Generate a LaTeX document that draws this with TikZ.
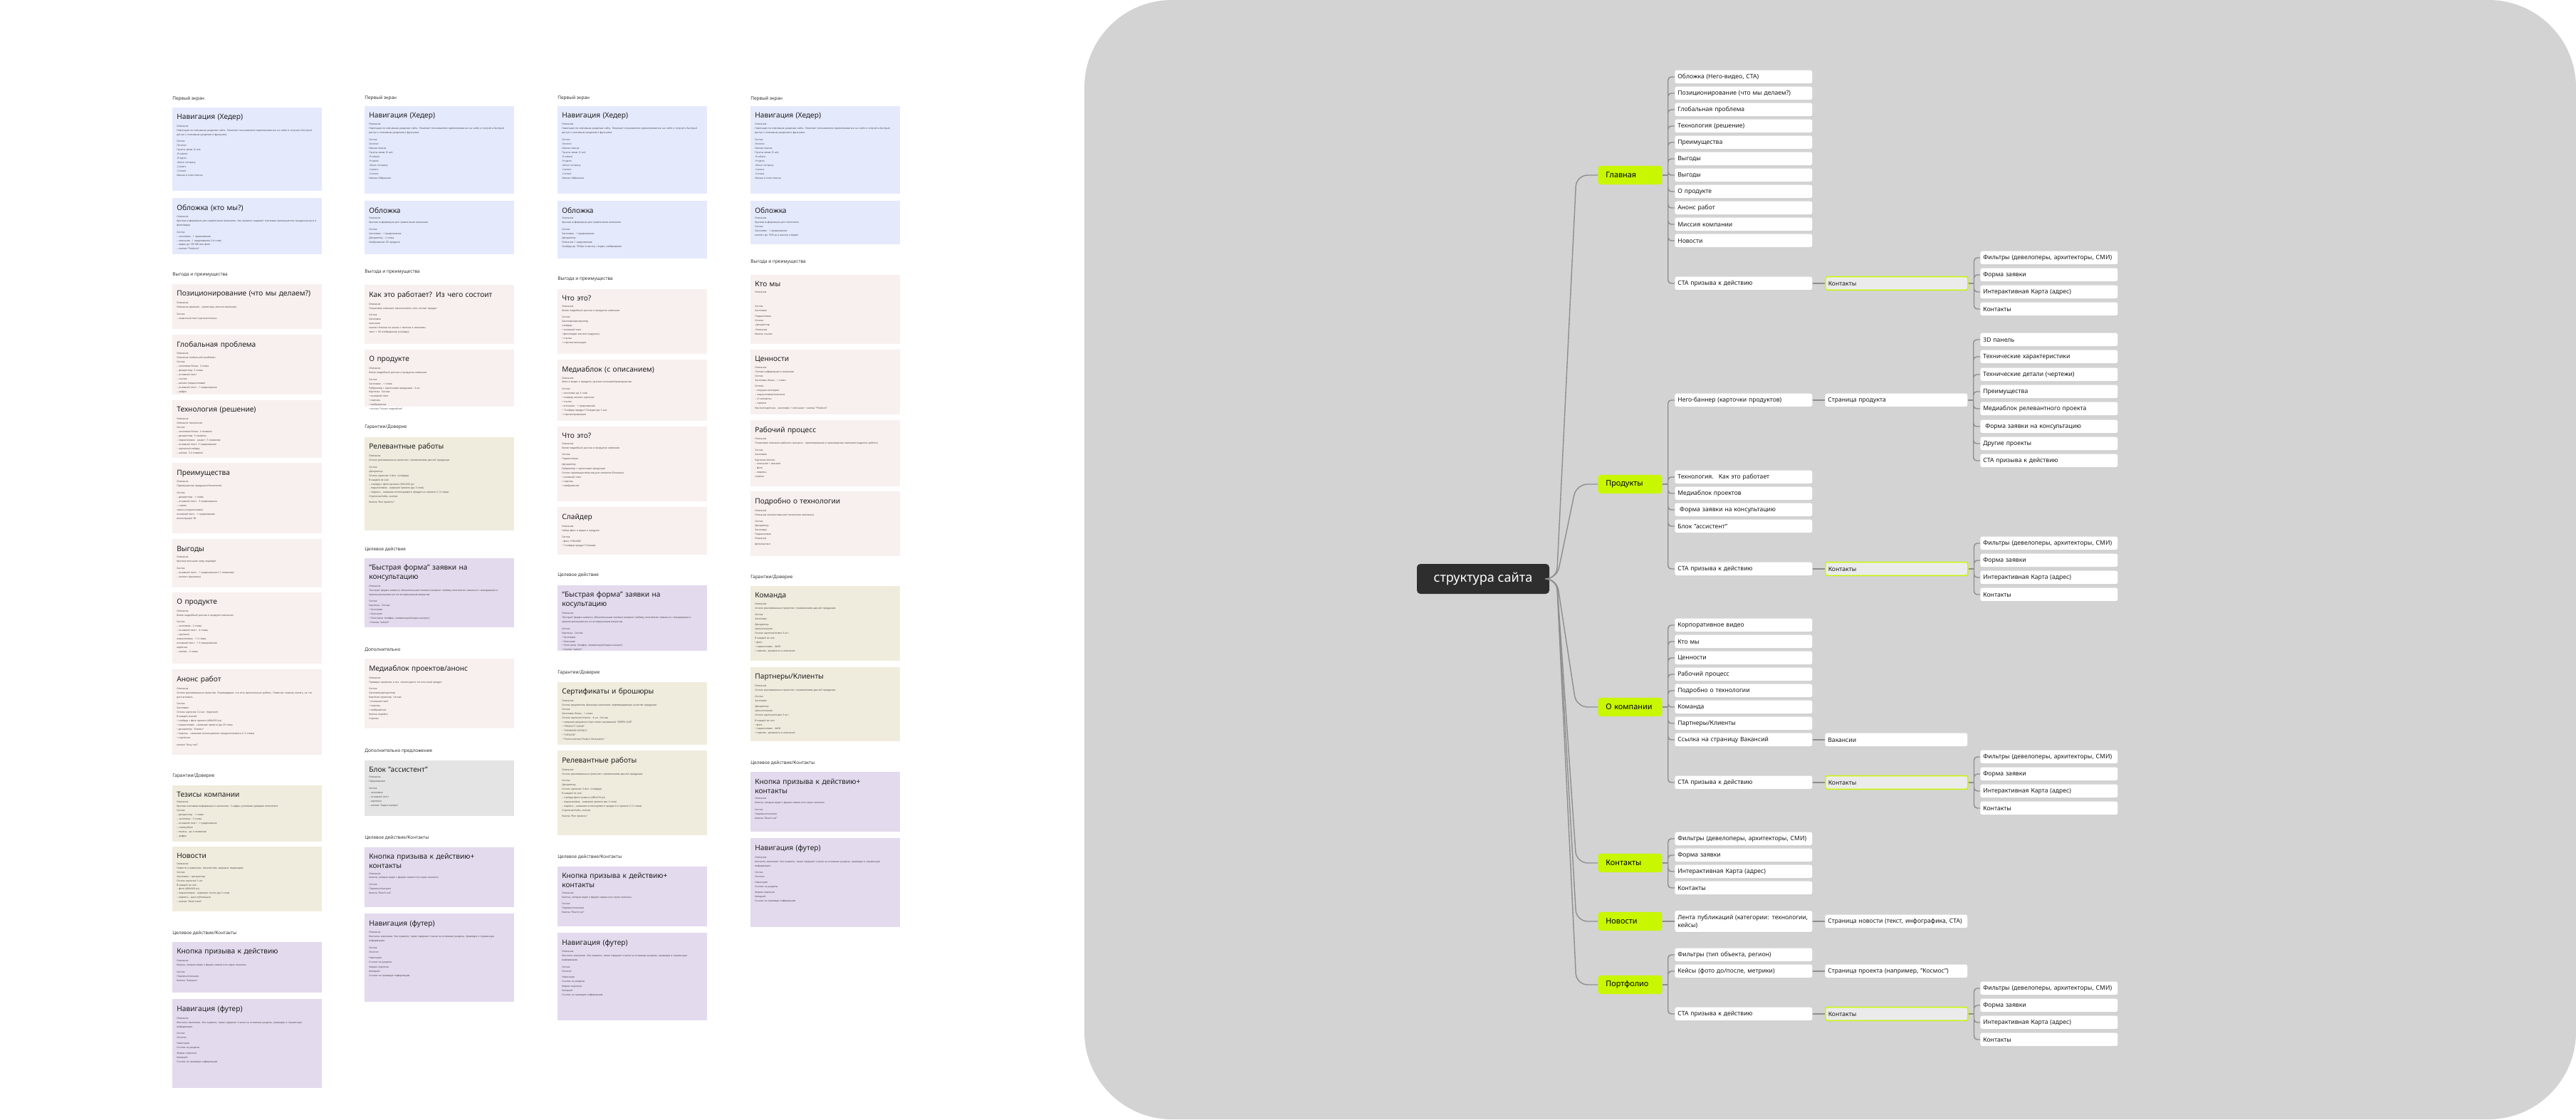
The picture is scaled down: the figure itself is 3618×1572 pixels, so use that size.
\documentclass[tikz,border=0pt]{standalone}
\usepackage{fontspec}
\setmainfont{Noto Sans}
\usetikzlibrary{calc,shadows}

\definecolor{mapgray}{HTML}{D3D3D3}
\definecolor{lime}{HTML}{C8F700}
\definecolor{linkgray}{HTML}{8E8E8E}
\definecolor{rootgray}{HTML}{2E2E2E}
\definecolor{hlgray}{HTML}{EBEBEB}
\definecolor{navblue}{HTML}{E5E9FC}
\definecolor{benpink}{HTML}{F7F0EE}
\definecolor{trustbeige}{HTML}{F0ECDD}
\definecolor{actlilac}{HTML}{E3DAEE}
\definecolor{extragray}{HTML}{E4E4E4}

\tikzset{
  cardtitle/.style={anchor=north west, inner sep=0pt, text width=39mm, align=left,
    font=\fontsize{5.8}{7.4}\selectfont, text=black!88},
  cardbody/.style={anchor=north west, inner sep=0pt, text width=39.6mm, align=left,
    font=\fontsize{1.9}{3.4}\selectfont, text=black!72},
  grouplabel/.style={anchor=west, inner sep=0pt, font=\fontsize{3.7}{4.4}\selectfont, text=black!80},
  mapitem/.style={anchor=west, fill=white, rounded corners=1.6pt, text width=37mm,
    inner xsep=0.8mm, inner ysep=0pt, minimum height=3.74mm, align=left,
    font=\fontsize{4.9}{6.3}\selectfont, text=black!90,
    drop shadow={shadow xshift=0pt, shadow yshift=-0.45pt, opacity=0.18}},
  subpage/.style={mapitem, text width=38.4mm},
  hlbox/.style={subpage, fill=hlgray, draw=lime, line width=0.85pt},
  toplevel/.style={anchor=west, fill=lime, rounded corners=2.2pt, text width=13.6mm,
    inner xsep=2.2mm, inner ysep=0pt, minimum height=5.26mm, align=left,
    font=\fontsize{6.2}{7}\selectfont\bfseries},
  rootbox/.style={fill=rootgray, rounded corners=2.8pt, text=white,
    minimum width=37.2mm, minimum height=8.4mm, inner sep=0pt,
    font=\fontsize{10.3}{12}\selectfont},
  rootlink/.style={draw=linkgray, line width=0.8pt, rounded corners=9pt},
  link/.style={draw=linkgray, line width=0.8pt, rounded corners=2.6pt},
}

\newcommand{\hd}[1]{{\bfseries #1}}
% карточка: имя, цвет, x, верх, низ, заголовок, текст
\newcommand{\card}[7]{%
  \fill[#2] (#3,#4) rectangle (#3+210,#5);
  \node[cardtitle] (#1) at (#3+6,#4+9) {#6};
  \node[cardbody] (#1b) at ([yshift=-3pt]#1.south west) {#7};
}
\newcommand{\footerbody}{\hd{Описание}\\Контакты компании. Как правило, также содержит ссылки на основные разделы, правовую и справочную информацию.\\[2pt]\hd{Состав}\\Логотип\\[1pt]Навигация\\Ссылки на разделы\\[1pt]Форма подписки\\Копирайт\\Ссылки на правовую информацию}
\newcommand{\formbody}{\hd{Описание}\\“Быстрая” форма заявки (с обязательными полями) позволит любому посетителю связаться с менеджером и проконсультироваться по интересующим вопросам\\[2pt]\hd{Состав}\\Карточка. Состав:\\• Заголовок\\• Описание\\• Поля (имя, телефон, комментарий/задать вопрос)\\• Кнопка "submit"}
\newcommand{\ctabody}{\hd{Описание}\\Кнопка, которая ведет к форме заявки или через контакты\\[2pt]\hd{Состав}\\Подпись/описание\\Кнопка "Reach out"}
\newcommand{\navbody}[1]{\hd{Описание}\\Навигация по ключевым разделам сайта. Помогает пользователю ориентироваться на сайте и получить быстрый доступ к ключевым разделам и функциям.\\[2pt]\hd{Состав}\\Логотип\\Иконка поиска\\Пункты меню (5 шт):\\-Products\\-Projects\\-About company\\-Careers\\-Contact\\#1}

\begin{document}
\begin{tikzpicture}[x=0.2mm,y=-0.2mm]
\useasboundingbox (0,0) rectangle (3618,1572);
\fill[white] (0,0) rectangle (3618,1572);

%колонка 1
\node[grouplabel] (l1a) at (242,139) {Первый экран};
\card{navA}{navblue}{242}{150.8}{267.9}{Навигация (Хедер)}{\hd{Описание}\\Навигация по ключевым разделам сайта. Помогает пользователю ориентироваться на сайте и получить быстрый доступ к ключевым разделам и функциям.\\[2pt]\hd{Состав}\\Логотип\\Пункты меню (5 шт):\\-Products\\-Projects\\-About company\\-Careers\\-Contact\\Иконка и поле поиска}
\card{oblA}{navblue}{242}{278.4}{356.5}{Обложка (кто мы?)}{\hd{Описание}\\Краткая информация для привлечения внимания. Как правило содержит ключевые преимущества продукта/услуги и фото/видео\\[2pt]\hd{Состав}\\– заголовок - 1 предложение\\– описание - 1 предложение (14 слов)\\– видео до 100 Мб или фото\\– кнопка "Products"}
\node[grouplabel] (l1b) at (242,386) {Выгода и преимущества};
\card{posA}{benpink}{242}{399.2}{462.1}{Позиционирование (что мы делаем?)}{\hd{Описание}\\Описание решения - проектора, миссия компании\\[2pt]\hd{Состав}\\– акцентный текст (цитата/слоган)}
\card{globA}{benpink}{242}{469.9}{553.9}{Глобальная проблема}{\hd{Описание}\\Описание глобальной проблемы\\\hd{Состав}\\– заголовок блока: 3 слова\\– дескриптор: 2 слова\\– основной текст\\– ссылка\\– иконки (подзаголовки)\\– основной текст - 1 предложение\\– цифры}
\card{techA}{benpink}{242}{562.2}{642.6}{Технология (решение)}{\hd{Описание}\\Описание технологии\\\hd{Состав}\\– заголовок блока: 4 символа\\– дескриптор: 3 символа\\– подзаголовок - акцент: 5 символов\\– основной текст: 3 предложения\\– картинка/слайдер\\– кнопка: 3-4 символа}
\card{preA}{benpink}{242}{650.4}{749.1}{Преимущества}{\hd{Описание}\\Преимущества продукции/технологии\\[2pt]\hd{Состав}\\– дескриптор - 1 слово\\– основной текст - 3 предложения\\– список\\тезисы (подзаголовок)\\основной текст - 1 предложение\\иллюстрация 3D}
\card{vygA}{benpink}{242}{757.4}{824.9}{Выгоды}{\hd{Описание}\\Краткое описание кому подойдет\\[2pt]\hd{Состав}\\– основной текст - 1 предложение (11 символов)\\– контент (картинка)}
\card{oprA}{benpink}{242}{831.8}{931.5}{О продукте}{\hd{Описание}\\Более подробный рассказ о продукте компании\\[2pt]\hd{Состав}\\– заголовок - 2 слова\\– основной текст - 4 слова\\– картинка\\подзаголовок - 1-3 слова\\основной текст - 1-3 предложения\\картинка\\– кнопка - 2 слова}
\card{anonsA}{benpink}{242}{940.4}{1059.6}{Анонс работ}{\hd{Описание}\\Список реализованных проектов. Подтверждает, что есть выполненные работы. Помогает клиенту понять, на что рассчитывать.\\[2pt]\hd{Состав}\\Заголовок\\Список карточек 3-4 шт. (горизонт)\\В каждой кнопке:\\• слайдер с фото проекта (480x320 px)\\• подзаголовок - название проекта (до 20 слов)\\• дескриптор: "Клиент"\\• подпись - название используемого продукта/проекта (1-3 слова)\\• стрелочки\\[2pt]кнопка "Хочу так!"}
\node[grouplabel] (l1c) at (242,1090) {Гарантии/Доверие};
\card{tezA}{trustbeige}{242}{1102.5}{1181.5}{Тезисы компании}{\hd{Описание}\\Краткая ключевая информация о компании. 3 цифры усиливают доверие посетителя\\\hd{Состав}\\– дескриптор - 1 слово\\– заголовок - 3 слова\\– основной текст - 1 предложение\\– список/блок\\– тезисы - до 4 символов\\– цифры}
\card{newsA}{trustbeige}{242}{1189}{1279.7}{Новости}{\hd{Описание}\\Новости о компании, технологиях, мировых тенденциях\\\hd{Состав}\\\hd{Заголовок + дескриптор}\\Список карточек 3 шт.\\В каждой из них:\\– фото (480x300 px)\\– подзаголовок - название статьи (до 3 слов)\\– подпись - дата публикации\\– кнопка "Read more"}
\node[grouplabel] (l1d) at (242,1311) {Целевое действие/Контакты};
\card{btnA}{actlilac}{242}{1323}{1394.4}{Кнопка призыва к действию}{\hd{Описание}\\Кнопка, которая ведет к форме заявки или через контакты\\[2pt]\hd{Состав}\\Подпись/описание\\Кнопка "Заказать"}
\card{footA}{actlilac}{242}{1403.4}{1527.5}{Навигация (футер)}{\footerbody}

%колонка 2
\node[grouplabel] (l2a) at (512,137.5) {Первый экран};
\card{navB}{navblue}{512}{148.5}{271.5}{Навигация (Хедер)}{\navbody{Иконка Избранное}}
\card{oblB}{navblue}{512}{282}{356.5}{Обложка}{\hd{Описание}\\Краткая информация для привлечения внимания.\\[2pt]\hd{Состав}\\Заголовок - 1 предложение\\Дескриптор - 2 слова\\Изображение 3D продукта}
\node[grouplabel] (l2b) at (512,382) {Выгода и преимущества};
\card{kakB}{benpink}{512}{400}{482.8}{Как это работает? Из чего состоит}{\hd{Описание}\\Пошаговое описание технологии/из чего состоит продукт\\[2pt]\hd{Состав}\\Заголовок\\описание\\контент блоков по шагам с текстом и иконками\\текст + 3D изображение (слайдер)}
\card{oprB}{benpink}{512}{491}{571}{О продукте}{\hd{Описание}\\Более подробный рассказ о продуктах компании\\[2pt]\hd{Состав}\\Заголовок - 1 слово\\Рубрикатор с карточками продукции - 4 шт\\Карточка. Состав:\\• основной текст\\• подпись\\• изображение\\• кнопка "Узнать подробнее"}
\node[grouplabel] (l2c) at (512,600) {Гарантии/Доверие};
\card{relB}{trustbeige}{512}{613.6}{745.4}{Релевантные работы}{\hd{Описание}\\Список реализованных проектов с применением данной продукции.\\[2pt]\hd{Состав}\\Дескриптор\\Список карточек 3-4шт. (слайдер)\\В каждой из них:\\– слайдер с фото проекта (300x200 px)\\– подзаголовок - название проекта (до 3 слов)\\– подпись - название используемого продукта в проекте (1-3 слова)\\Стрелочки/табы, кнопки\\[1pt]Кнопка "Все проекты"}
\node[grouplabel] (l2d) at (512,772) {Целевое действие};
\card{formB}{actlilac}{512}{783.5}{881.4}{“Быстрая форма” заявки на консультацию}{\formbody}
\node[grouplabel] (l2e) at (512,913) {Дополнительно};
\card{mediaB}{benpink}{512}{925}{1023}{Медиаблок проектов/анонс}{\hd{Описание}\\Примеры проектов, в кот. используется тот или иной продукт\\[2pt]\hd{Состав}\\Заголовок/дескриптор\\Карточки проектов. Состав:\\• основной текст\\• подпись\\• изображение\\Кнопка перейти\\Стрелки}
\node[grouplabel] (l2f) at (512,1055) {Дополнительно предложение};
\card{asstB}{extragray}{512}{1067.5}{1146.3}{Блок "ассистент"}{\hd{Описание}\\Предложение\\[2pt]\hd{Состав}\\– заголовок\\– основной текст\\– картинка\\– кнопка "Задать вопрос"}
\node[grouplabel] (l2g) at (512,1177) {Целевое действие/Контакты};
\card{btnB}{actlilac}{512}{1189.6}{1273.5}{Кнопка призыва к действию+ контакты}{\ctabody}
\card{footB}{actlilac}{512}{1283}{1407}{Навигация (футер)}{\footerbody}

%колонка 3
\node[grouplabel] (l3a) at (783,137.5) {Первый экран};
\card{navC}{navblue}{783}{148.5}{271.5}{Навигация (Хедер)}{\navbody{Иконка Избранное}}
\card{oblC}{navblue}{783}{282}{362.5}{Обложка}{\hd{Описание}\\Краткая информация для привлечения внимания.\\[2pt]\hd{Состав}\\Заголовок - 1 предложение\\Дескриптор\\Описание 1 предложение\\Слайдер до 1920px в высоту / видео, изображение}
\node[grouplabel] (l3b) at (783,392) {Выгода и преимущества};
\card{chtoC}{benpink}{783}{406}{496.5}{Что это?}{\hd{Описание}\\Более подробный рассказ о продуктах компании\\[2pt]\hd{Состав}\\Заголовок/дескриптор\\слайдер:\\• основной текст\\• фото/видео контент (карусель)\\• ссылка\\• стрелки/пагинация}
\card{mediaC}{benpink}{783}{504.8}{590.7}{Медиаблок (с описанием)}{\hd{Описание}\\Фото и видео о продукте, краткое описание/преимущества\\[2pt]\hd{Состав}\\• заголовок до 3 слов\\• слайдер контент карточек\\• ссылка\\• описание - 1 предложение\\• "Слайдер продукт"/Галерея (до 5 шт)\\• стрелки/сравнение}
\card{chtoCC}{benpink}{783}{599}{704}{Что это?}{\hd{Описание}\\Более подробный рассказ о продуктах компании\\[2pt]\hd{Состав}\\Подзаголовок\\[1pt]Дескриптор\\Рубрикатор с карточками продукции\\Список преимуществ/выгод для клиентов (блоками)\\• основной текст\\• подпись\\• изображение}
\card{sliderC}{benpink}{783}{712.4}{779}{Слайдер}{\hd{Описание}\\Набор фото и видео о продукте\\[2pt]\hd{Состав}\\• фото 1920x800\\• "Слайдер продукт"/Галерея}
\node[grouplabel] (l3c) at (783,808) {Целевое действие};
\card{formC}{actlilac}{783}{821.7}{913.5}{“Быстрая форма” заявки на косультацию}{\formbody}
\node[grouplabel] (l3d) at (783,944.5) {Гарантии/Доверие};
\card{certC}{trustbeige}{783}{957.5}{1046}{Сертификаты и брошюры}{\hd{Описание}\\Список документов, брошюры компании, подтверждающих качество продукции\\\hd{Состав}\\Заголовок блока - 1 слово\\Список карточек/плиток - 4 шт. Состав:\\• название документа (при клике скачивание) "GREEN LINE"\\• "PRODUCT GUIDE"\\• "STANDARD DETAILS"\\• "CATALOG"\\• "Environmental Product Declaration"}
\card{relC}{trustbeige}{783}{1054.3}{1173}{Релевантные работы}{\hd{Описание}\\Список реализованных проектов с применением данной продукции.\\[2pt]\hd{Состав}\\Дескриптор\\Список карточек 3-4шт. (слайдер)\\В каждой из них:\\– слайдер фото проекта (480x270 px)\\– подзаголовок - название проекта (до 3 слов)\\– подпись - название используемого продукта в проекте (1-3 слова)\\Стрелочки/табы, кнопки\\[1pt]Кнопка "Все проекты"}
\node[grouplabel] (l3e) at (783,1204) {Целевое действие/Контакты};
\card{btnC}{actlilac}{783}{1217}{1301}{Кнопка призыва к действию+ контакты}{\ctabody}
\card{footC}{actlilac}{783}{1310}{1433}{Навигация (футер)}{\footerbody}

%колонка 4
\node[grouplabel] (l4a) at (1054,139) {Первый экран};
\card{navD}{navblue}{1054}{148.5}{271.5}{Навигация (Хедер)}{\navbody{Иконка и поле поиска}}
\card{oblD}{navblue}{1054}{282}{342.7}{Обложка}{\hd{Описание}\\Краткая информация для посетителя\\\hd{Состав}\\Заголовок - 1 предложение\\контент до 1920 px в высоту и видео}
\node[grouplabel] (l4b) at (1054,368) {Выгода и преимущества};
\card{ktoD}{benpink}{1054}{386.3}{482.8}{Кто мы}{\hd{Описание}\\[8pt]\hd{Состав}\\Заголовок\\[1pt]Подзаголовок\\Список:\\-Дескриптор\\[1pt]-Описание\\Кнопка ссылки}
\card{cenD}{benpink}{1054}{491}{581.5}{Ценности}{\hd{Описание}\\Полная информация о компании\\\hd{Состав}\\Заголовок блока - 1 слово\\[1pt]Список:\\– текущая категория\\– подзаголовок/описание\\– UI элементы\\– стрелки\\[1pt]Контент/карточки - заголовок + описание + кнопка "Products"}
\card{rabD}{benpink}{1054}{589.8}{682.5}{Рабочий процесс}{\hd{Описание}\\Пошаговое описание рабочего процесса - проектирования и производства компании (карусель работы)\\[2pt]\hd{Состав}\\Заголовок\\[1pt]Карточки/список:\\– описание + иконкой\\– фото\\– подпись\\стрелки}
\card{podrD}{benpink}{1054}{690.3}{781.2}{Подробно о технологии}{\hd{Описание}\\Описание запатентованной технологии компании\\[2pt]\hd{Состав}\\\hd{Дескриптор}\\Заголовок\\Подзаголовок\\Описание\\[1pt]фото/контент}
\node[grouplabel] (l4c) at (1054,811) {Гарантии/Доверие};
\card{komD}{trustbeige}{1054}{822.6}{928.3}{Команда}{\hd{Описание}\\Список реализованных проектов с применением данной продукции.\\[2pt]\hd{Состав}\\\hd{Заголовок}\\[1pt]Дескриптор\\Цель/описание\\Список карточек/ячеек 3 шт.:\\[1pt]В каждой из них:\\• фото\\• подзаголовок - ФИО\\• подпись: должность в компании}
\card{partD}{trustbeige}{1054}{936.7}{1040.7}{Партнеры/Клиенты}{\hd{Описание}\\Список реализованных проектов с применением данной продукции.\\[2pt]\hd{Состав}\\\hd{Заголовок}\\[1pt]Дескриптор\\Цель/описание\\Список карточек/ячеек 3 шт.:\\[1pt]В каждой из них:\\• фото\\• подзаголовок - ФИО\\• подпись: должность в компании}
\node[grouplabel] (l4d) at (1054,1072) {Целевое действие/Контакты};
\card{btnD}{actlilac}{1054}{1084.3}{1168.3}{Кнопка призыва к действию+ контакты}{\ctabody}
\card{footD}{actlilac}{1054}{1177.3}{1301.7}{Навигация (футер)}{\footerbody}

%поле карты
\fill[mapgray, rounded corners=70pt] (1523,0) rectangle (3618,1572);

%корень
\node[rootbox] (root) at (2083,813) {структура сайта};

%главная
\node[toplevel] (glav) at (2244,246) {Главная};
\node[mapitem] (g1) at (2352,108) {Обложка (Него-видео, CTA)};
\node[mapitem] (g2) at (2352,131) {Позиционирование (что мы делаем?)};
\node[mapitem] (g3) at (2352,154) {Глобальная проблема};
\node[mapitem] (g4) at (2352,177) {Технология (решение)};
\node[mapitem] (g5) at (2352,200) {Преимущества};
\node[mapitem] (g6) at (2352,223) {Выгоды};
\node[mapitem] (g7) at (2352,246) {Выгоды};
\node[mapitem] (g8) at (2352,269) {О продукте};
\node[mapitem] (g9) at (2352,292) {Анонс работ};
\node[mapitem] (g10) at (2352,315) {Миссия компании};
\node[mapitem] (g11) at (2352,338) {Новости};
\node[mapitem] (g12) at (2352,398) {CTA призыва к действию};
\node[hlbox] (gk) at (2563,398) {Контакты};
\node[mapitem] (gk1) at (2781,362) {Фильтры (девелоперы, архитекторы, СМИ)};
\node[mapitem] (gk2) at (2781,386) {Форма заявки};
\node[mapitem] (gk3) at (2781,410) {Интерактивная Карта (адрес)};
\node[mapitem] (gk4) at (2781,434) {Контакты};

%продукты
\node[toplevel] (prod) at (2244,680) {Продукты};
\node[mapitem] (p1) at (2352,562) {Него-баннер (карточки продуктов)};
\node[subpage] (ps) at (2563,562) {Страница продукта};
\node[mapitem] (ps1) at (2781,477) {3D панель};
\node[mapitem] (ps2) at (2781,501) {Технические характеристики};
\node[mapitem] (ps3) at (2781,526) {Технические детали (чертежи)};
\node[mapitem] (ps4) at (2781,550) {Преимущества};
\node[mapitem] (ps5) at (2781,574) {Медиаблок релевантного проекта};
\node[mapitem] (ps6) at (2781,599) {~Форма заявки на консультацию};
\node[mapitem] (ps7) at (2781,623) {Другие проекты};
\node[mapitem] (ps8) at (2781,647) {CTA призыва к действию};
\node[mapitem] (p2) at (2352,670) {Технология.~ Как это работает};
\node[mapitem] (p3) at (2352,693) {Медиаблок проектов};
\node[mapitem] (p4) at (2352,716) {~Форма заявки на консультацию};
\node[mapitem] (p5) at (2352,739) {Блок "ассистент"};
\node[mapitem] (p6) at (2352,799) {CTA призыва к действию};
\node[hlbox] (pk) at (2563,799) {Контакты};
\node[mapitem] (pk1) at (2781,763) {Фильтры (девелоперы, архитекторы, СМИ)};
\node[mapitem] (pk2) at (2781,787) {Форма заявки};
\node[mapitem] (pk3) at (2781,811) {Интерактивная Карта (адрес)};
\node[mapitem] (pk4) at (2781,835) {Контакты};

%о компании
\node[toplevel] (comp) at (2244,993) {О~компании};
\node[mapitem] (c1) at (2352,878) {Корпоративное видео};
\node[mapitem] (c2) at (2352,901) {Кто мы};
\node[mapitem] (c3) at (2352,924) {Ценности};
\node[mapitem] (c4) at (2352,947) {Рабочий процесс};
\node[mapitem] (c5) at (2352,970) {Подробно о технологии};
\node[mapitem] (c6) at (2352,993) {Команда};
\node[mapitem] (c7) at (2352,1016) {Партнеры/Клиенты};
\node[mapitem] (c8) at (2352,1039) {Ссылка на страницу Вакансий};
\node[subpage] (cv) at (2563,1039) {Вакансии};
\node[mapitem] (c9) at (2352,1099) {CTA призыва к действию};
\node[hlbox] (ck) at (2563,1099) {Контакты};
\node[mapitem] (ck1) at (2781,1063) {Фильтры (девелоперы, архитекторы, СМИ)};
\node[mapitem] (ck2) at (2781,1087) {Форма заявки};
\node[mapitem] (ck3) at (2781,1111) {Интерактивная Карта (адрес)};
\node[mapitem] (ck4) at (2781,1135) {Контакты};

%контакты
\node[toplevel] (cont) at (2244,1212) {Контакты};
\node[mapitem] (t1) at (2352,1178) {Фильтры (девелоперы, архитекторы, СМИ)};
\node[mapitem] (t2) at (2352,1201) {Форма заявки};
\node[mapitem] (t3) at (2352,1224) {Интерактивная Карта (адрес)};
\node[mapitem] (t4) at (2352,1247) {Контакты};

%новости
\node[toplevel] (nws) at (2244,1294) {Новости};
\node[mapitem, minimum height=6mm] (n1) at (2352,1294) {Лента публикаций (категории: технологии,\\кейсы)};
\node[subpage] (ns) at (2563,1294) {Страница новости (текст, инфографика, CTA)};

%портфолио
\node[toplevel] (port) at (2244,1383) {Портфолио};
\node[mapitem] (f1) at (2352,1341) {Фильтры (тип объекта, регион)};
\node[mapitem] (f2) at (2352,1364) {Кейсы (фото до/после, метрики)};
\node[subpage] (fs) at (2563,1364) {Страница проекта (например, "Космос")};
\node[mapitem] (f3) at (2352,1424) {CTA призыва к действию};
\node[hlbox] (fk) at (2563,1424) {Контакты};
\node[mapitem] (fk1) at (2781,1388) {Фильтры (девелоперы, архитекторы, СМИ)};
\node[mapitem] (fk2) at (2781,1412) {Форма заявки};
\node[mapitem] (fk3) at (2781,1436) {Интерактивная Карта (адрес)};
\node[mapitem] (fk4) at (2781,1460) {Контакты};

%ветки от корня
\draw[rootlink] (root.east) -- ++(10,0) -- ($(glav.west)+(-30,0)$) -- (glav.west);
\draw[rootlink] (root.east) -- ++(10,0) -- ($(prod.west)+(-30,0)$) -- (prod.west);
\draw[rootlink] (root.east) -- ++(10,0) -- ($(comp.west)+(-30,0)$) -- (comp.west);
\draw[rootlink] (root.east) -- ++(10,0) -- ($(cont.west)+(-30,0)$) -- (cont.west);
\draw[rootlink] (root.east) -- ++(10,0) -- ($(nws.west)+(-30,0)$) -- (nws.west);
\draw[rootlink] (root.east) -- ++(10,0) -- ($(port.west)+(-30,0)$) -- (port.west);

%главная
\draw[link] (glav.east) -- ++(8,0) coordinate (gt);
\draw[link] (gt) |- (g1.west) (gt) |- (g2.west) (gt) |- (g3.west) (gt) |- (g4.west)
  (gt) |- (g5.west) (gt) |- (g6.west) (gt) |- (g7.west) (gt) |- (g8.west)
  (gt) |- (g9.west) (gt) |- (g10.west) (gt) |- (g11.west) (gt) |- (g12.west);
\draw[link] (g12.east) -- (gk.west);
\draw[link] (gk.east) -- ++(8,0) coordinate (gkt);
\draw[link] (gkt) |- (gk1.west) (gkt) |- (gk2.west) (gkt) |- (gk3.west) (gkt) |- (gk4.west);

%продукты
\draw[link] (prod.east) -- ++(8,0) coordinate (pt);
\draw[link] (pt) |- (p1.west) (pt) |- (p2.west) (pt) |- (p3.west) (pt) |- (p4.west)
  (pt) |- (p5.west) (pt) |- (p6.west);
\draw[link] (p1.east) -- (ps.west);
\draw[link] (ps.east) -- ++(8,0) coordinate (pst);
\draw[link] (pst) |- (ps1.west) (pst) |- (ps2.west) (pst) |- (ps3.west) (pst) |- (ps4.west)
  (pst) |- (ps5.west) (pst) |- (ps6.west) (pst) |- (ps7.west) (pst) |- (ps8.west);
\draw[link] (p6.east) -- (pk.west);
\draw[link] (pk.east) -- ++(8,0) coordinate (pkt);
\draw[link] (pkt) |- (pk1.west) (pkt) |- (pk2.west) (pkt) |- (pk3.west) (pkt) |- (pk4.west);

%о компании
\draw[link] (comp.east) -- ++(8,0) coordinate (ct);
\draw[link] (ct) |- (c1.west) (ct) |- (c2.west) (ct) |- (c3.west) (ct) |- (c4.west)
  (ct) |- (c5.west) (ct) |- (c6.west) (ct) |- (c7.west) (ct) |- (c8.west) (ct) |- (c9.west);
\draw[link] (c8.east) -- (cv.west);
\draw[link] (c9.east) -- (ck.west);
\draw[link] (ck.east) -- ++(8,0) coordinate (ckt);
\draw[link] (ckt) |- (ck1.west) (ckt) |- (ck2.west) (ckt) |- (ck3.west) (ckt) |- (ck4.west);

%контакты
\draw[link] (cont.east) -- ++(8,0) coordinate (tt);
\draw[link] (tt) |- (t1.west) (tt) |- (t2.west) (tt) |- (t3.west) (tt) |- (t4.west);

%новости
\draw[link] (nws.east) -- (n1.west);
\draw[link] (n1.east) -- (ns.west);

%портфолио
\draw[link] (port.east) -- ++(8,0) coordinate (ft);
\draw[link] (ft) |- (f1.west) (ft) |- (f2.west) (ft) |- (f3.west);
\draw[link] (f2.east) -- (fs.west);
\draw[link] (f3.east) -- (fk.west);
\draw[link] (fk.east) -- ++(8,0) coordinate (fkt);
\draw[link] (fkt) |- (fk1.west) (fkt) |- (fk2.west) (fkt) |- (fk3.west) (fkt) |- (fk4.west);
\end{tikzpicture}
\end{document}
